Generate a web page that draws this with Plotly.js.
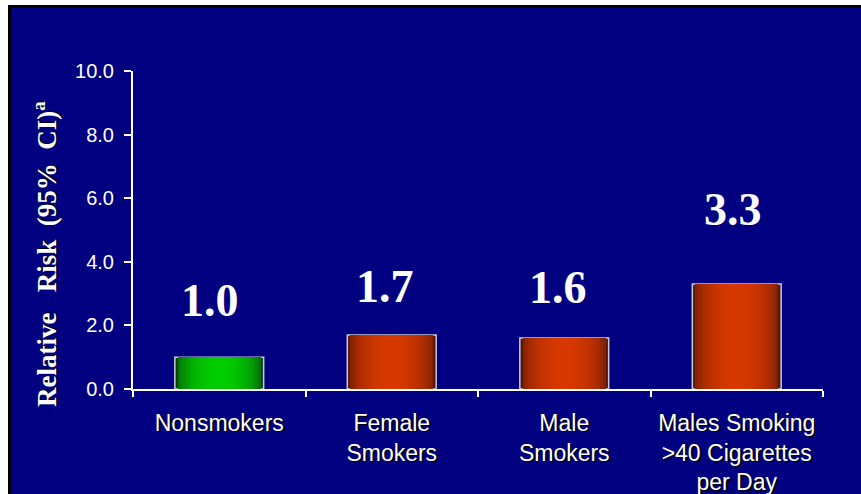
<!DOCTYPE html>
<html>
<head>
<meta charset="utf-8">
<script src="https://cdn.plot.ly/plotly-3.0.1.min.js"></script>
<style>
  html, body { margin: 0; padding: 0; background: #ffffff; width: 861px; height: 494px; overflow: hidden; }
  #frame { position: absolute; left: 8px; top: 5px; width: 853px; height: 489px; background: #000000; }
  #chart { position: absolute; left: 3px; top: 3px; width: 850px; height: 486px; }
</style>
</head>
<body>
<div id="frame"><div id="chart"></div></div>
<script>
// ---- data ----
const categories = ['Nonsmokers', 'Female<br>Smokers', 'Male<br>Smokers', 'Males Smoking<br>&gt;40 Cigarettes<br>per Day'];
const relativeRisk = [1.0, 1.7, 1.6, 3.3];
const yTickValues = [0, 2, 4, 6, 8, 10];
const yTitle = 'Relative\u00a0\u00a0 Risk\u00a0 (95%\u00a0 CI)<sup>a</sup>';

// ---- style ----
const edgeColors   = [[10, 66, 12], [88, 22, 4], [88, 22, 4], [88, 22, 4]];
const centerColors = [[0, 205, 0], [214, 56, 0], [214, 56, 0], [214, 56, 0]];
const labelShiftY  = [29, 21, 23, 47];   // pixel lift of each value label above its bar
const labelShiftX  = [-9, -7, -6, -4];
const BAR_W = 0.515;
const LAYERS = 16;

function mix(a, b, t) {
  return 'rgb(' + a.map((v, i) => Math.round(v + (b[i] - v) * t)).join(',') + ')';
}

const traces = [];
for (let k = 0; k < LAYERS; k++) {
  const frac = 1 - k / LAYERS;             // width fraction of this layer
  const t = Math.sqrt(1 - frac * frac);    // cylindrical brightness
  traces.push({
    type: 'bar',
    x: categories,
    y: relativeRisk,
    width: BAR_W * frac,
    marker: {
      color: categories.map((c, i) => mix(edgeColors[i], centerColors[i], t)),
      line: k === 0 ? { color: 'rgb(200,200,215)', width: 1.5 } : { width: 0 }
    },
    hoverinfo: 'skip',
    showlegend: false
  });
}

const valueLabels = categories.map((c, i) => ({
  x: c, y: relativeRisk[i], xref: 'x', yref: 'y',
  text: relativeRisk[i].toFixed(1),
  showarrow: false, yanchor: 'bottom', yshift: labelShiftY[i], xshift: labelShiftX[i],
  font: { family: 'Liberation Serif, Times New Roman, serif', size: 46, color: '#ffffff', weight: 'bold' }
}));

const titleAnn = {
  xref: 'paper', yref: 'paper', x: -0.1275, y: 0.4245,
  xanchor: 'center', yanchor: 'middle', textangle: -90, showarrow: false,
  text: yTitle,
  font: { family: 'Liberation Serif, Times New Roman, serif', size: 27, color: '#ffffff', weight: 'bold',
          shadow: '1px 1px 1px #000000' }
};

const layout = {
  width: 850, height: 486,
  margin: { l: 122, r: 38, t: 63, b: 105 },
  paper_bgcolor: '#000080',
  plot_bgcolor: '#000080',
  barmode: 'overlay',
  bargap: 0,
  showlegend: false,
  xaxis: {
    type: 'category',
    range: [-0.5, 3.5],
    showline: true, linecolor: '#ffffff', linewidth: 2,
    ticks: 'outside', tickson: 'boundaries', ticklen: 6, tickwidth: 2, tickcolor: '#ffffff',
    showgrid: false, zeroline: false,
    ticklabelstandoff: 12,
    tickfont: { family: 'Liberation Sans, Arial, sans-serif', size: 23, color: '#ffffff',
                shadow: '1.5px 1.5px 1px #000000' }
  },
  yaxis: {
    range: [0, 10],
    tickvals: yTickValues,
    tickformat: '.1f',
    showline: true, linecolor: '#ffffff', linewidth: 2,
    ticks: 'outside', ticklen: 7, tickwidth: 2, tickcolor: '#ffffff',
    showgrid: false, zeroline: false,
    ticklabelstandoff: 6,
    tickfont: { family: 'Liberation Sans, Arial, sans-serif', size: 20, color: '#ffffff' }
  },
  annotations: valueLabels.concat([titleAnn])
};

Plotly.newPlot('chart', traces, layout, { displayModeBar: false, staticPlot: true });
</script>
</body>
</html>
